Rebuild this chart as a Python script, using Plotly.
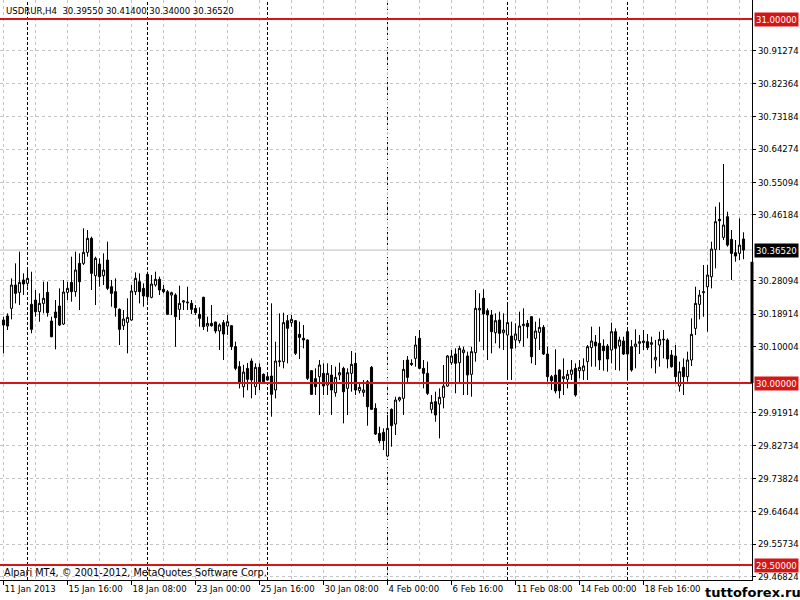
import plotly.graph_objects as go

# ---------------- data (USDRUR, H4) ----------------
opens = [30.1730, 30.1840, 30.2051, 30.2692, 30.2490, 30.2829, 30.2738, 30.2161, 30.2280, 30.1959,
         30.2188, 30.2490, 30.1703, 30.1950, 30.2115, 30.1620, 30.2490, 30.2765, 30.2509, 30.3287,
         30.3287, 30.3589, 30.3974, 30.2948, 30.3269, 30.2948, 30.3379, 30.2646, 30.2509, 30.2023,
         30.1574, 30.1666, 30.1730, 30.2509, 30.2783, 30.2600, 30.2985, 30.2353, 30.2692, 30.2848,
         30.2573, 30.2509, 30.2417, 30.2417, 30.2023, 30.2225, 30.2225, 30.2188, 30.2051, 30.1886,
         30.2353, 30.1565, 30.1638, 30.1675, 30.1428, 30.1657, 30.1565, 30.1574, 30.1000, 30.0450,
         29.9900, 30.0400, 30.0604, 29.9899, 30.0430, 30.0238, 30.0174, 30.0192, 29.9807, 30.0586,
         30.0586, 30.1712, 30.1658, 30.1712, 30.1337, 30.1227, 30.1181, 30.0338, 30.0119, 30.0174,
         30.0265, 29.9945, 30.0219, 29.9734, 30.0219, 30.0403, 29.9853, 30.0265, 30.0540, 29.9789,
         29.9743, 30.0036, 30.0430, 29.9303, 29.8616, 29.8644, 29.7994, 29.9276, 29.8873, 29.9532,
         29.9578, 30.0632, 30.0540, 30.0677, 30.1227, 30.0403, 30.0265, 29.9276, 29.9487, 29.9422,
         29.9606, 29.9917, 30.0558, 30.0796, 30.0558, 30.0833, 30.0742, 30.0238, 30.0833, 30.2006,
         30.2326, 30.1987, 30.1868, 30.1383, 30.1731, 30.1383, 30.1319, 30.1291, 30.1181, 30.1163,
         30.1575, 30.1639, 30.1822, 30.1227, 30.1392, 30.1529, 30.0796, 30.0174, 30.0219, 30.0357,
         30.0119, 30.0100, 30.0238, 30.0403, 30.0338, 30.0338, 30.0586, 30.0971, 30.1126, 30.1090,
         30.1016, 30.1016, 30.0906, 30.1410, 30.1016, 30.1154, 30.1410, 30.0998, 30.0998, 30.1090,
         30.1108, 30.1135, 30.1062, 30.0632, 30.1044, 30.1181, 30.1181, 30.0769, 30.0742, 29.9917,
         30.0430, 30.0174, 30.0632, 30.1500, 30.2160, 30.2481, 30.2645, 30.2920, 30.3671, 30.4496,
         30.4001, 30.4569, 30.3946, 30.3580, 30.3561, 30.3955]
highs = [30.1822, 30.1913, 30.2875, 30.3287, 30.3608, 30.3012, 30.3104, 30.3058, 30.2554, 30.2463,
         30.2783, 30.2783, 30.1822, 30.2280, 30.2600, 30.2829, 30.2783, 30.3470, 30.3608, 30.3562,
         30.4249, 30.4203, 30.4020, 30.3470, 30.3425, 30.3562, 30.3883, 30.2829, 30.2875, 30.2051,
         30.2005, 30.2325, 30.2692, 30.3040, 30.3012, 30.2738, 30.3058, 30.2967, 30.3058, 30.2921,
         30.2692, 30.2554, 30.2509, 30.2463, 30.2674, 30.2280, 30.2646, 30.2280, 30.2142, 30.2078,
         30.2371, 30.1822, 30.2142, 30.1684, 30.1638, 30.1730, 30.1867, 30.1593, 30.1136, 30.0600,
         30.0500, 30.0550, 30.0677, 30.0540, 30.0540, 30.0265, 30.0219, 30.2189, 30.1135, 30.1914,
         30.1932, 30.1868, 30.1868, 30.1731, 30.1685, 30.1593, 30.1200, 30.0357, 30.0403, 30.0632,
         30.0540, 30.0540, 30.0494, 30.0448, 30.0558, 30.0448, 30.0403, 30.0879, 30.0833, 29.9990,
         30.0082, 30.0082, 30.0467, 29.9441, 29.8800, 29.8754, 29.9120, 29.9303, 29.9624, 29.9624,
         30.0632, 30.0742, 30.0650, 30.1291, 30.1456, 30.0632, 30.0586, 29.9670, 29.9761, 29.9853,
         30.0494, 30.0769, 30.0906, 30.0952, 30.1025, 30.0998, 30.0861, 30.0998, 30.2555, 30.2464,
         30.2574, 30.2051, 30.2006, 30.1914, 30.1960, 30.1914, 30.2143, 30.1685, 30.1639, 30.1960,
         30.2051, 30.1731, 30.1841, 30.1685, 30.1777, 30.1593, 30.0998, 30.0219, 30.0925, 30.0375,
         30.0677, 30.0357, 30.0632, 30.0540, 30.0632, 30.0677, 30.1044, 30.1548, 30.1319, 30.1548,
         30.1200, 30.1071, 30.1658, 30.1502, 30.1273, 30.1273, 30.1456, 30.1181, 30.1474, 30.1319,
         30.1456, 30.1346, 30.1273, 30.1181, 30.1410, 30.1456, 30.1227, 30.0906, 30.1044, 30.0586,
         30.0677, 30.0861, 30.1777, 30.2645, 30.2554, 30.3241, 30.3241, 30.3882, 30.4844, 30.4963,
         30.6016, 30.4706, 30.4203, 30.3928, 30.4523, 30.4140]
lows = [30.0814, 30.1455, 30.1748, 30.2188, 30.2142, 30.2417, 30.2646, 30.1364, 30.1822, 30.1684,
        30.1913, 30.1822, 30.1254, 30.0924, 30.1565, 30.1593, 30.2280, 30.2234, 30.2371, 30.2005,
        30.3241, 30.3470, 30.2554, 30.2142, 30.2646, 30.2692, 30.2554, 30.2096, 30.1822, 30.1043,
        30.1455, 30.0814, 30.1712, 30.2417, 30.2188, 30.2096, 30.2234, 30.2325, 30.2646, 30.2417,
        30.2463, 30.1867, 30.1867, 30.0997, 30.1730, 30.2005, 30.2005, 30.1895, 30.1867, 30.1547,
        30.1455, 30.1409, 30.1547, 30.1364, 30.0906, 30.0631, 30.1318, 30.0906, 30.0350, 29.9850,
        29.9600, 29.9800, 29.9578, 29.9670, 29.9807, 30.0009, 30.0064, 29.9074, 29.9578, 30.0448,
        30.0403, 30.0540, 30.1548, 30.0769, 30.0659, 30.0952, 30.0082, 29.9670, 29.9670, 29.9120,
        29.9670, 29.9670, 29.9120, 29.9624, 30.0082, 29.8891, 29.9120, 29.9761, 29.9670, 29.9716,
        29.9624, 29.8827, 29.9258, 29.8571, 29.8342, 29.8158, 29.7975, 29.8250, 29.8571, 29.9487,
        29.9120, 29.9990, 30.0467, 30.0448, 30.0375, 29.9853, 29.9670, 29.9166, 29.8937, 29.8479,
        29.9303, 29.9899, 30.0494, 29.9716, 29.9990, 29.9670, 29.9670, 29.9624, 30.0586, 30.1135,
        30.0906, 30.0632, 30.0815, 30.1090, 30.0952, 30.0906, 30.0082, 30.0082, 30.0952, 30.1090,
        30.0998, 30.1227, 30.0540, 30.0494, 30.0906, 30.0769, 30.0036, 29.9807, 29.9716, 29.9578,
        29.9670, 29.9853, 30.0082, 29.9624, 30.0128, 30.0082, 30.0082, 30.0448, 30.0448, 30.0357,
        30.0338, 30.0311, 30.0540, 30.0357, 30.0338, 30.0769, 30.0064, 30.0311, 30.0403, 30.0796,
        30.0906, 30.0906, 30.0403, 30.0265, 30.0448, 30.0677, 30.0403, 30.0421, 29.9990, 29.9761,
        29.9670, 30.0036, 30.0467, 30.1317, 30.1748, 30.1821, 30.1409, 30.2600, 30.3149, 30.3653,
        30.3928, 30.3745, 30.2829, 30.3332, 30.3378, 30.3400]
closes = [30.1593, 30.1565, 30.2692, 30.2463, 30.2765, 30.2719, 30.2875, 30.1474, 30.1959, 30.2188,
          30.2325, 30.1932, 30.1272, 30.1794, 30.1593, 30.2499, 30.2600, 30.2509, 30.3104, 30.2783,
          30.3589, 30.3974, 30.3012, 30.3425, 30.2921, 30.3104, 30.2600, 30.2463, 30.2069, 30.1474,
          30.1757, 30.1803, 30.2527, 30.2875, 30.2509, 30.2390, 30.2371, 30.2719, 30.2848, 30.2554,
          30.2509, 30.1886, 30.2481, 30.1822, 30.2188, 30.2252, 30.2206, 30.2023, 30.1932, 30.1776,
          30.1547, 30.1638, 30.1574, 30.1428, 30.1593, 30.1345, 30.1684, 30.0997, 30.0403, 30.0000,
          30.0300, 30.0100, 30.0082, 30.0430, 30.0036, 30.0036, 30.0082, 29.9688, 30.0604, 30.0604,
          30.1658, 30.1502, 30.1749, 30.0815, 30.1254, 30.1181, 30.0128, 29.9688, 29.9899, 30.0494,
          29.9917, 30.0265, 29.9807, 30.0155, 30.0284, 29.9761, 30.0284, 30.0513, 29.9807, 29.9880,
          29.9807, 29.9349, 29.9276, 29.8598, 29.8415, 29.8415, 29.8754, 29.8827, 29.9532, 29.9597,
          30.0375, 30.0155, 30.0513, 30.1044, 30.0403, 30.0265, 29.9716, 29.9468, 29.9120, 29.9606,
          29.9917, 30.0742, 30.0742, 30.0540, 30.0952, 30.0906, 30.0219, 30.0861, 30.2051, 30.2051,
          30.1896, 30.1868, 30.1410, 30.1712, 30.1364, 30.1456, 30.1658, 30.0952, 30.1346, 30.1566,
          30.1612, 30.1548, 30.0723, 30.1429, 30.1529, 30.0796, 30.0174, 30.0064, 29.9780, 29.9789,
          30.0174, 30.0238, 30.0357, 29.9670, 30.0430, 30.0467, 30.0998, 30.1154, 30.1025, 30.0632,
          30.0888, 30.0659, 30.1410, 30.0952, 30.1181, 30.0796, 30.0796, 30.0357, 30.1071, 30.1135,
          30.1154, 30.0971, 30.1108, 30.0705, 30.1200, 30.1200, 30.0659, 30.0448, 30.0174, 30.0311,
          30.0174, 30.0632, 30.1337, 30.2187, 30.2416, 30.2508, 30.2966, 30.3680, 30.4432, 30.4459,
          30.4340, 30.3790, 30.3561, 30.3488, 30.3790, 30.3652]

x_tick_bars = [0, 16, 32, 48, 64, 80, 96, 112, 128, 144, 160]
x_tick_labels = ["11 Jan 2013", "15 Jan 16:00", "18 Jan 08:00", "23 Jan 00:00", "25 Jan 16:00",
                 "30 Jan 08:00", "4 Feb 00:00", "6 Feb 16:00", "11 Feb 08:00", "14 Feb 00:00",
                 "18 Feb 16:00"]
week_start_bars = [6, 36, 66, 96, 126, 156]

y_tick_vals = [30.91274, 30.82364, 30.73184, 30.64274, 30.55094, 30.46184, 30.28094, 30.18914,
               30.10004, 29.91914, 29.82734, 29.73824, 29.64644, 29.55734, 29.46824]
y_tick_labels = ["%.5f" % v for v in y_tick_vals]

levels = [31.0, 30.0, 29.5]
symbol = "USDRUR,H4"
bar_marker_top = 30.333   # top of the thick marker on the price scale

# ---------------- figure ----------------
FONT = "DejaVu Sans Condensed, DejaVu Sans, Liberation Sans, sans-serif"
WIDE = "DejaVu Sans, Liberation Sans, sans-serif"
RED = "rgb(214,22,22)"
GRID = "#c4c4c4"
n = len(opens)
bars = list(range(n))
x0 = -0.875  # half-pixel alignment of candle centres

fig = go.Figure(go.Candlestick(
    x=bars, open=opens, high=highs, low=lows, close=closes,
    increasing=dict(line=dict(color="black", width=1), fillcolor="white"),
    decreasing=dict(line=dict(color="black", width=1), fillcolor="black"),
    whiskerwidth=0, showlegend=False, hoverinfo="skip"))

shapes = []
for b in week_start_bars:
    shapes.append(dict(type="line", xref="x", yref="paper", x0=b, x1=b, y0=0, y1=1,
                       line=dict(color="black", width=1, dash="3px,2px"), layer="below"))
# bid line
shapes.append(dict(type="line", xref="paper", yref="y", x0=0, x1=1, y0=closes[-1], y1=closes[-1],
                   line=dict(color="#bdbdbd", width=1), layer="below"))
for lv in levels:
    shapes.append(dict(type="line", xref="paper", yref="y", x0=0, x1=1, y0=lv, y1=lv,
                       line=dict(color=RED, width=2), layer="above"))
shapes.append(dict(type="line", xref="paper", yref="y", x0=1, x1=1, y0=levels[1], y1=bar_marker_top,
                   line=dict(color="black", width=3), layer="above"))

annotations = []
for lv in levels:
    annotations.append(dict(xref="paper", yref="y", x=1, y=lv, xanchor="left", yanchor="middle",
                            xshift=2, text="%.5f" % lv, showarrow=False, bgcolor=RED,
                            font=dict(family=FONT, size=9.5, color="white"), borderpad=1))
annotations.append(dict(xref="paper", yref="y", x=1, y=closes[-1], xanchor="left", yanchor="middle",
                        xshift=2, text="%.5f" % closes[-1], showarrow=False, bgcolor="black",
                        font=dict(family=FONT, size=9.5, color="white"), borderpad=1))
annotations.append(dict(xref="paper", yref="paper", x=0, y=1, xanchor="left", yanchor="top",
                        xshift=4, yshift=-3,
                        text="%s  %.5f %.5f %.5f %.5f" % (symbol, opens[-1], highs[-1], lows[-1], closes[-1]),
                        showarrow=False, font=dict(family=FONT, size=9.5, color="black")))
annotations.append(dict(xref="paper", yref="paper", x=0, y=0, xanchor="left", yanchor="bottom",
                        xshift=2, yshift=0,
                        text="Alpari MT4, © 2001-2012, MetaQuotes Software Corp.",
                        showarrow=False, font=dict(family=WIDE, size=9.7, color="black")))
annotations.append(dict(xref="paper", yref="paper", x=1, y=0, xanchor="left", yanchor="top",
                        xshift=-49, yshift=-3, text="<b>tuttoforex.ru</b>", showarrow=False,
                        font=dict(family="DejaVu Sans, sans-serif", size=13, color="black")))

fig.update_layout(
    width=800, height=600,
    margin=dict(l=0, r=48, t=0, b=20, pad=0),
    paper_bgcolor="white", plot_bgcolor="white",
    font=dict(family=FONT, size=9.5, color="black"),
    shapes=shapes, annotations=annotations,
    boxgap=0.25,
    xaxis=dict(range=[x0, x0 + 188], tickmode="array", tickvals=x_tick_bars, ticktext=x_tick_labels,
               tickangle=0,
               ticks="outside", ticklen=4, tickcolor="black", showline=True, linecolor="black",
               linewidth=1, showgrid=True, gridcolor=GRID, griddash="3px,3px", gridwidth=1,
               minor=dict(tickmode="array", tickvals=list(range(0, n + 2, 8)), showgrid=True,
                          gridcolor=GRID, griddash="3px,3px", ticks=""),
               ticklabelposition="outside right", zeroline=False, automargin=False,
               rangeslider=dict(visible=False), fixedrange=True,
               tickfont=dict(family=FONT, size=9.5, color="black")),
    yaxis=dict(side="right", range=[29.4588, 31.0522], tickmode="array", tickvals=y_tick_vals,
               ticktext=y_tick_labels, ticks="outside", ticklen=3, tickcolor="black",
               showline=True, linecolor="black", linewidth=1, showgrid=True, gridcolor=GRID,
               griddash="3px,3px", zeroline=False, automargin=False, fixedrange=True,
               tickfont=dict(family=FONT, size=9.5, color="black")),
)

fig.write_html("out.html", config={"displayModeBar": False},
               post_script="document.body.style.margin='0';document.body.style.padding='0';"
                           "document.body.style.overflow='hidden';")
